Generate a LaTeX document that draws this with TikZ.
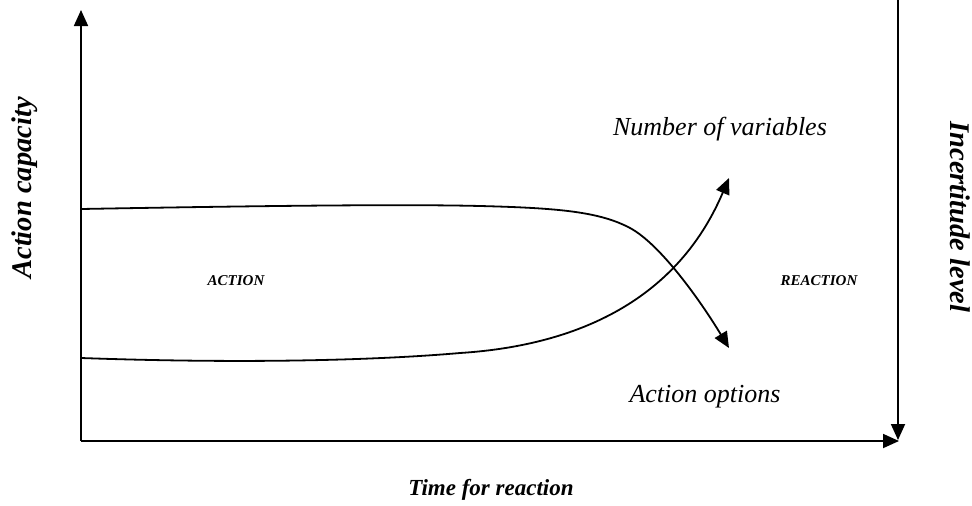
\documentclass[tikz,border=0pt]{standalone}
\usepackage{fontspec}
\setmainfont{Liberation Serif}
\usetikzlibrary{arrows.meta}
\tikzset{
  axisline/.style={line width=1.8pt,-{Triangle[length=16pt,width=14pt]}},
  curveline/.style={line width=1.8pt,-{Triangle[length=16pt,width=14pt]}},
  biglabel/.style={inner sep=0pt,anchor=base,font=\fontsize{26}{30}\selectfont\itshape},
  axislabel/.style={inner sep=0pt,anchor=base,font=\fontsize{23}{28}\selectfont\bfseries\itshape},
  sidelabel/.style={inner sep=0pt,anchor=base,font=\fontsize{28.5}{33}\selectfont\bfseries\itshape},
  zonelabel/.style={inner sep=0pt,anchor=base,font=\fontsize{15}{18}\selectfont\bfseries\itshape}
}
\begin{document}
\begin{tikzpicture}[x=1pt,y=-1pt]
\useasboundingbox (0,0) rectangle (972,506);
% axes
\coordinate (O) at (81,441);
\coordinate (ytop) at (81,10);
\coordinate (xend) at (899,441);
\coordinate (rtop) at (898,0);
\coordinate (rbot) at (898,440);
\draw[axisline] (O) -- (ytop);
\draw[axisline] (O) -- (xend);
\draw[axisline] (rtop) -- (rbot);
% curves
\coordinate (a0) at (81,209);
\coordinate (a1) at (480,206);
\coordinate (a2) at (630,228);
\coordinate (a3) at (729,348);
\draw[curveline] (a0) .. controls (250,206) and (400,204) .. (a1)
  .. controls (560,208) and (600,212) .. (a2)
  .. controls (660,244) and (700,300) .. (a3);
\coordinate (b0) at (81,358);
\coordinate (b1) at (460,353);
\coordinate (b2) at (729,178);
\draw[curveline] (b0) .. controls (250,364) and (380,360) .. (b1)
  .. controls (570,346) and (675,305) .. (b2);
% labels
\node[biglabel] (nv) at (720,135) {Number of variables};
\node[biglabel] (ao) at (705,402) {Action options};
\node[zonelabel] (act) at (236,285) {ACTION};
\node[zonelabel] (react) at (819,285) {REACTION};
\node[axislabel] (tr) at (491,495) {Time for reaction};
\node[sidelabel,rotate=90] (ac) at (31,188) {Action capacity};
\node[sidelabel,rotate=-90] (il) at (950,217) {Incertitude level};
\end{tikzpicture}
\end{document}
